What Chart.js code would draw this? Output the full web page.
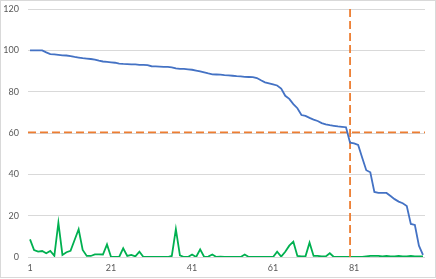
<!DOCTYPE html>
<html>
<head>
<meta charset="utf-8">
<script src="https://cdn.jsdelivr.net/npm/chart.js@4"></script>
<style>
  html, body { margin: 0; padding: 0; background: #fff; }
  #wrap { position: absolute; left: 0; top: 0; width: 434px; height: 276px; border: 1px solid #d9d9d9; }
  canvas { display: block; }
</style>
</head>
<body>
<div id="wrap"><canvas id="c" width="434" height="276"></canvas></div>
<script>
const categories = [1,2,3,4,5,6,7,8,9,10,11,12,13,14,15,16,17,18,19,20,
  21,22,23,24,25,26,27,28,29,30,31,32,33,34,35,36,37,38,39,40,
  41,42,43,44,45,46,47,48,49,50,51,52,53,54,55,56,57,58,59,60,
  61,62,63,64,65,66,67,68,69,70,71,72,73,74,75,76,77,78,79,80,
  81,82,83,84,85,86,87,88,89,90,91,92,93,94,95,96,97,98];

const blueValues = [100,100,100,100,99,98.2,98,97.8,97.6,97.5,
  97.2,96.8,96.5,96.2,96,95.8,95.5,95,94.6,94.4,
  94.2,94,93.6,93.4,93.3,93.2,93.2,93,93,92.8,
  92.3,92.2,92.1,92,92,91.8,91.3,91,91,90.8,
  90.6,90.2,89.8,89.3,88.8,88.4,88.3,88.2,88,87.9,
  87.7,87.5,87.4,87.2,87.1,87,86.6,85.5,84.5,84,
  83.5,83,81.5,78,76.5,74,72,68.7,68.3,67.3,
  66.5,65.8,64.8,64.2,63.8,63.5,63.2,63,62.8,55.3,
  55,54.2,48,42,41,31.5,31,31,31,29.5,
  28,26.8,26,24.7,16,15.5,5.5,1];

const greenValues = [8.5,3.4,2.6,2.9,1.8,2.9,0.6,16.6,1,2.3,
  3,8.2,13.4,3.4,0.5,0.5,1.3,1.3,1.2,6.1,
  0,0,0,4.2,0.5,1,0.3,2.6,0,0,
  0,0,0,0,0,0.5,13.5,0.8,0,0,
  1.2,0,3.7,0,0.2,1.2,0,0.2,0,0,
  0,0,0,1.2,0,0,0,0,0,0,
  0,2.6,0.2,2.5,5.5,7.4,0.5,0.3,0.3,6.9,
  0.5,0.5,0.3,0.3,1.8,0,0,0,0,0,
  0,0,0,0.3,0.5,0.5,0.5,0.3,0.5,0.3,
  0.3,0.5,0.3,0.3,0.5,0.3,0.3,0.3];

const thresholdY = 60.3;
const cutoffX = 80;
const xTickLabels = [1,21,41,61,81];
const yTickValues = [0,20,40,60,80,100,120];

const toXY = (vals) => vals.map((v, i) => ({ x: categories[i], y: v }));
const xMin = categories[0] - 0.5;
const xMax = categories[categories.length - 1] + 0.5;

new Chart(document.getElementById('c'), {
  type: 'line',
  data: {
    datasets: [
      { data: toXY(blueValues), borderColor: '#4472C4', borderWidth: 1.8, pointRadius: 0, tension: 0 },
      { data: [{x: xMin, y: thresholdY}, {x: xMax, y: thresholdY}], borderColor: '#ED7D31', borderWidth: 1.8, borderDash: [8, 4], pointRadius: 0 },
      { data: [{x: cutoffX, y: 0}, {x: cutoffX, y: 120}], borderColor: '#ED7D31', borderWidth: 1.8, borderDash: [8, 4], pointRadius: 0 },
      { data: toXY(greenValues), borderColor: '#00B050', borderWidth: 1.8, pointRadius: 0, tension: 0 }
    ]
  },
  options: {
    responsive: false,
    animation: false,
    events: [],
    layout: { padding: { top: 8, right: 10, left: 0, bottom: 0 } },
    plugins: { legend: { display: false }, tooltip: { enabled: false } },
    scales: {
      x: {
        type: 'linear',
        min: xMin, max: xMax,
        grid: { display: false, drawTicks: false },
        border: { display: false },
        afterBuildTicks: (s) => { s.ticks = xTickLabels.map(v => ({ value: v })); },
        afterFit: (s) => { s.height = 20; s.paddingLeft = 0; s.paddingRight = 0; },
        ticks: { color: '#595959', font: { family: 'Lato', size: 9 }, padding: 6, autoSkip: false, maxRotation: 0, callback: (v) => String(v) }
      },
      y: {
        min: 0, max: 120,
        grid: { color: '#d9d9d9', lineWidth: 1, drawTicks: false },
        border: { display: false },
        afterBuildTicks: (s) => { s.ticks = yTickValues.map(v => ({ value: v })); },
        afterFit: (s) => { s.width = 27; s.paddingTop = 0; s.paddingBottom = 0; },
        ticks: { color: '#595959', font: { family: 'Lato', size: 9 }, padding: 9 }
      }
    }
  }
});
</script>
</body>
</html>
